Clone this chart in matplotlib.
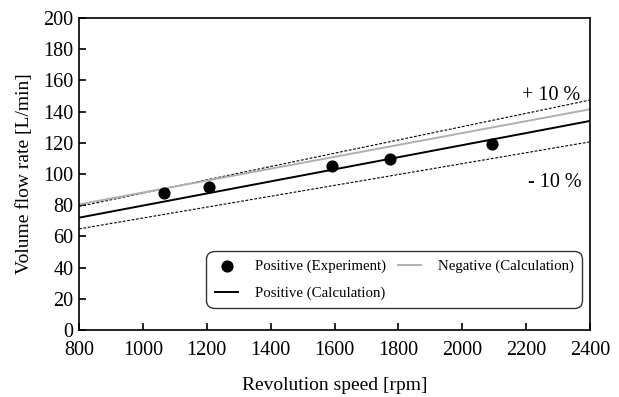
import numpy as np
import matplotlib
matplotlib.use("Agg")
import matplotlib.pyplot as plt

plt.rcParams['font.family'] = ['Liberation Serif', 'DejaVu Serif']

# Measured points
speed_exp = [1067, 1207, 1591, 1774, 2092]
flow_exp = [88.0, 91.5, 105.3, 109.4, 119.2]

# Calculated lines (end values at 800 and 2400 rpm)
speed_calc = [800, 2400]
flow_pos_calc = [72.0, 134.0]
flow_neg_calc = [80.5, 141.5]

fig = plt.figure(figsize=(6.19, 3.97), dpi=100)
ax = fig.add_axes([79 / 619, 1 - 330 / 397, 511 / 619, 312 / 397])

pos = np.array(flow_pos_calc)
ax.plot(speed_calc, pos * 1.1, color='black', lw=0.8, ls=(0, (2.5, 1.5)))
ax.plot(speed_calc, pos * 0.9, color='black', lw=0.8, ls=(0, (2.5, 1.5)))
neg_line, = ax.plot(speed_calc, flow_neg_calc, color='#b0b0b0', lw=1.4,
                    label='Negative (Calculation)')
pos_line, = ax.plot(speed_calc, flow_pos_calc, color='black', lw=1.4,
                    label='Positive (Calculation)')
pts = ax.scatter(speed_exp, flow_exp, s=60, color='black', zorder=5,
                 label='Positive (Experiment)')

ax.text(2370, 144.5, '+ 10 %', ha='right', va='bottom', fontsize=14.5)
ax.text(2375, 88.5, '- 10 %', ha='right', va='bottom', fontsize=14.5)

ax.set_xlim(800, 2400)
ax.set_ylim(0, 200)
ax.set_xticks(np.arange(800, 2401, 200))
ax.set_yticks(np.arange(0, 201, 20))
ax.tick_params(direction='in', length=5, width=1.2, labelsize=14.5,
               top=False, right=False)
ax.tick_params(axis='x', pad=8)
ax.tick_params(axis='y', pad=4)
for s in ax.spines.values():
    s.set_linewidth(1.2)

ax.set_xlabel('Revolution speed [rpm]', fontsize=14, labelpad=12)
ax.set_ylabel('Volume flow rate [L/min]', fontsize=14, labelpad=7)

leg = ax.legend(handles=[pts, pos_line, neg_line], ncol=2, loc='lower right',
                bbox_to_anchor=(0.984, 0.07), fontsize=10.7, frameon=True,
                fancybox=True, edgecolor='#333333', framealpha=1,
                handlelength=1.6, handletextpad=1.1, columnspacing=0.8,
                borderpad=0.55, labelspacing=0.9, borderaxespad=0)
leg.get_frame().set_linewidth(1.0)
leg.get_frame().set_boxstyle('round', pad=0, rounding_size=0.55)

fig.savefig('out.png', dpi=100)
